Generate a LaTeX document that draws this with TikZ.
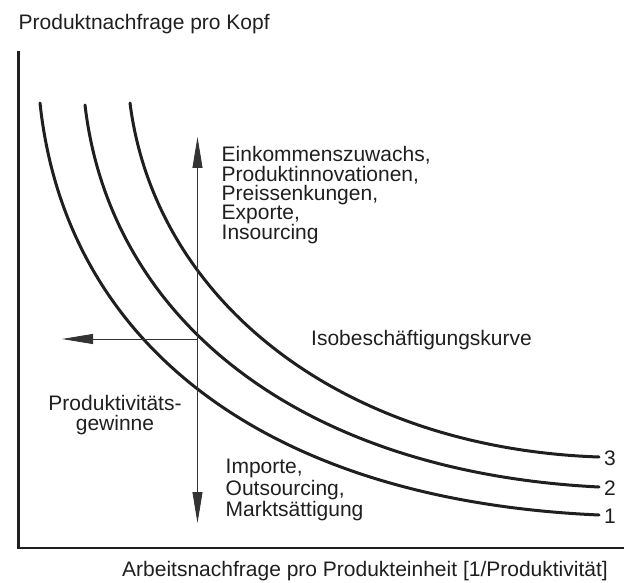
\documentclass[tikz,border=0pt]{standalone}
\usepackage{fontspec}
\setmainfont{Liberation Sans}
\usetikzlibrary{arrows.meta}
\begin{document}
\begin{tikzpicture}[x=1pt,y=-1pt,
  lbl/.style={inner sep=0pt, font=\fontsize{21}{24}\selectfont, text=black!88},
  vaxis/.style={line width=3pt, black!88},
  haxis/.style={line width=2.2pt, black!88},
  curve/.style={line width=3pt, black!88, line cap=round},
  tip/.style={},
  onearrow/.style={line width=0.8pt, black!80, -{Triangle[length=31pt,width=10pt]}},
  twoarrow/.style={line width=0.8pt, black!80, {Triangle[length=31pt,width=10pt]}-{Triangle[length=31pt,width=10pt]}}]
\useasboundingbox (0,0) rectangle (624,583);
% axes
\coordinate (ytop) at (18,51);
\coordinate (orig) at (18,548);
\coordinate (xend) at (624,548);
\draw[vaxis] (ytop) -- (18,549.1);
\draw[haxis] (16.5,548) -- (xend);
% curves
\coordinate (c1s) at (40,103);
\coordinate (c1e) at (599,515);
\coordinate (c2s) at (85,105);
\coordinate (c2e) at (599,487);
\coordinate (c3s) at (130,103);
\coordinate (c3e) at (599,457);
\draw[curve] (c1s) .. controls (65,340) and (260,500) .. (c1e);
\draw[curve] (c2s) .. controls (110,320) and (300,472) .. (c2e);
\draw[curve] (c3s) .. controls (155,300) and (340,448) .. (c3e);
% arrows
\coordinate (vtop) at (197.5,137);
\coordinate (vbot) at (197.5,523);
\coordinate (cross) at (197.5,339);
\coordinate (hleft) at (62,339);
\draw[twoarrow] (vbot) -- (vtop);
\draw[onearrow] (cross) -- (hleft);
% texts
\node[lbl, anchor=base west] (title) at (18.5,30) {Produktnachfrage pro Kopf};
\node[lbl, anchor=base east] (xlabel) at (608,576) {Arbeitsnachfrage pro Produkteinheit [1/Produktivität]};
\node[lbl, anchor=base west] (up1) at (221.5,162) {Einkommenszuwachs,};
\node[lbl, anchor=base west] (up2) at (221.5,181.3) {Produktinnovationen,};
\node[lbl, anchor=base west] (up3) at (221.5,200.6) {Preissenkungen,};
\node[lbl, anchor=base west] (up4) at (221.5,219.9) {Exporte,};
\node[lbl, anchor=base west] (up5) at (221.5,239.2) {Insourcing};
\node[lbl, anchor=base west] (iso) at (311,345) {Isobeschäftigungskurve};
\node[lbl, anchor=base] (pg1) at (115,410.5) {Produktivitäts-};
\node[lbl, anchor=base] (pg2) at (115,430) {gewinne};
\node[lbl, anchor=base west] (dn1) at (225.5,473) {Importe,};
\node[lbl, anchor=base west] (dn2) at (225.5,495) {Outsourcing,};
\node[lbl, anchor=base west] (dn3) at (225.5,516.5) {Marktsättigung};
\node[lbl, anchor=base west] (n3) at (604,465) {3};
\node[lbl, anchor=base west] (n2) at (604,495) {2};
\node[lbl, anchor=base west] (n1) at (604,523) {1};
\end{tikzpicture}
\end{document}
